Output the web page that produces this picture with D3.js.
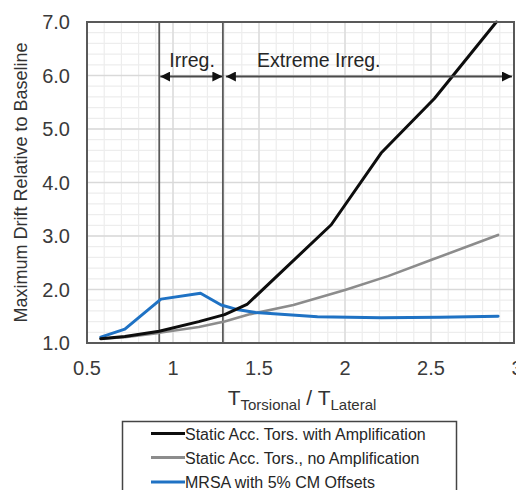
<!DOCTYPE html>
<html>
<head>
<meta charset="utf-8">
<script src="https://cdn.jsdelivr.net/npm/d3@7"></script>
<style>
  html, body { margin: 0; padding: 0; background: #fff; }
  svg { display: block; font-family: Arial, "Liberation Sans", sans-serif; }
</style>
</head>
<body>
<svg id="chart" width="516" height="490"></svg>
<script>
// Period ratio samples and normalized drift for each analysis approach
const ampX   = [0.58, 0.72, 0.92, 1.15, 1.30, 1.43, 1.92, 2.21, 2.52, 2.88];
const ampY   = [1.08, 1.12, 1.22, 1.40, 1.53, 1.72, 3.21, 4.55, 5.57, 7.00];

const noAmpX = [0.58, 0.72, 0.92, 1.15, 1.30, 1.45, 1.70, 2.00, 2.25, 2.50, 2.89];
const noAmpY = [1.08, 1.11, 1.19, 1.30, 1.40, 1.54, 1.71, 1.99, 2.25, 2.55, 3.02];

const mrsaX  = [0.58, 0.72, 0.93, 1.16, 1.28, 1.38, 1.48, 1.84, 2.21, 2.55, 2.89];
const mrsaY  = [1.11, 1.26, 1.82, 1.93, 1.71, 1.62, 1.57, 1.49, 1.47, 1.48, 1.50];

const seriesNames = [
  "Static Acc. Tors. with Amplification",
  "Static Acc. Tors., no Amplification",
  "MRSA with 5% CM Offsets"
];
const seriesColors = ["#0d0d0d", "#8c8c8c", "#1f72c4"];

const xTicks = [0.5, 1, 1.5, 2, 2.5, 3];
const yTicks = [1, 2, 3, 4, 5, 6, 7];

// Irregularity limits on the period ratio
const irregLimits = [0.92, 1.29];
const zoneLabels = ["Irreg.", "Extreme Irreg."];

const svg = d3.select("#chart");
const plotL = 87, plotR = 517, plotT = 22, plotB = 343;
const frameR = 514;

const x = d3.scaleLinear().domain([0.5, 3]).range([plotL, plotR]);
const y = d3.scaleLinear().domain([1, 7]).range([plotB, plotT]);

// Minor grid
const minorX = d3.range(0.5, 3.0001, 0.1).filter(v => x(v) < frameR);
const minorY = d3.range(1, 7.0001, 0.2);
const grid = svg.append("g");
grid.selectAll(".mx").data(minorX).join("line")
  .attr("x1", d => x(d)).attr("x2", d => x(d))
  .attr("y1", plotT).attr("y2", plotB)
  .attr("stroke", "#ededed").attr("stroke-width", 1.2);
grid.selectAll(".my").data(minorY).join("line")
  .attr("x1", plotL).attr("x2", frameR)
  .attr("y1", d => y(d)).attr("y2", d => y(d))
  .attr("stroke", "#ededed").attr("stroke-width", 1.2);
// Major grid
grid.selectAll(".Mx").data(xTicks.filter(v => x(v) < frameR)).join("line")
  .attr("x1", d => x(d)).attr("x2", d => x(d))
  .attr("y1", plotT).attr("y2", plotB)
  .attr("stroke", "#d9d9d9").attr("stroke-width", 1.3);
grid.selectAll(".My").data(yTicks).join("line")
  .attr("x1", plotL).attr("x2", frameR)
  .attr("y1", d => y(d)).attr("y2", d => y(d))
  .attr("stroke", "#d9d9d9").attr("stroke-width", 1.3);

// Irregularity boundaries
svg.append("g").selectAll("line").data(irregLimits).join("line")
  .attr("x1", d => x(d)).attr("x2", d => x(d))
  .attr("y1", plotT).attr("y2", plotB)
  .attr("stroke", "#5a5a5a").attr("stroke-width", 1.8);

// Series lines
const line = d3.line().x(d => x(d[0])).y(d => y(d[1]));
const series = [
  d3.zip(ampX, ampY),
  d3.zip(noAmpX, noAmpY),
  d3.zip(mrsaX, mrsaY)
];
const lineWidths = [3, 2.6, 3];
// grey first, then blue, then black on top
[1, 2, 0].forEach(i => {
  svg.append("path")
    .datum(series[i])
    .attr("fill", "none")
    .attr("stroke", seriesColors[i])
    .attr("stroke-width", lineWidths[i])
    .attr("stroke-linejoin", "round")
    .attr("stroke-linecap", "round")
    .attr("d", line);
});

// Plot frame
svg.append("path")
  .attr("d", `M${plotL},${plotT}H${frameR}V${plotB}H${plotL}Z`)
  .attr("fill", "none").attr("stroke", "#595959").attr("stroke-width", 2);

// Arrowheads
const defs = svg.append("defs");
defs.append("marker").attr("id", "ah")
  .attr("viewBox", "0 0 10 10").attr("refX", 10).attr("refY", 5)
  .attr("markerWidth", 10).attr("markerHeight", 10)
  .attr("markerUnits", "userSpaceOnUse")
  .attr("orient", "auto-start-reverse")
  .append("path").attr("d", "M0,0L10,5L0,10Z").attr("fill", "#111");

const arrowY = y(6) + 1;
const ann = svg.append("g");
const spans = [
  [x(irregLimits[0]) + 1, x(irregLimits[1]) - 0.5],
  [x(irregLimits[1]) + 3, 512]
];
spans.forEach(s => {
  ann.append("line")
    .attr("x1", s[0]).attr("x2", s[1])
    .attr("y1", arrowY).attr("y2", arrowY)
    .attr("stroke", "#4a4a4a").attr("stroke-width", 1.8)
    .attr("marker-start", "url(#ah)").attr("marker-end", "url(#ah)");
});
ann.append("text")
  .attr("x", (x(irregLimits[0]) + x(irregLimits[1])) / 2 + 1)
  .attr("y", 67).attr("text-anchor", "middle")
  .attr("font-size", 19.5).attr("fill", "#262626")
  .text(zoneLabels[0]);
ann.append("text")
  .attr("x", 257).attr("y", 67)
  .attr("font-size", 19.5).attr("fill", "#262626")
  .text(zoneLabels[1]);

// Axis tick labels
const fmtY = d3.format(".1f");
svg.append("g").selectAll("text").data(yTicks).join("text")
  .attr("x", 70).attr("y", d => y(d) + 7)
  .attr("text-anchor", "end")
  .attr("font-size", 20).attr("fill", "#3a3a3a")
  .text(d => fmtY(d));
svg.append("g").selectAll("text").data(xTicks).join("text")
  .attr("x", d => x(d)).attr("y", 375)
  .attr("text-anchor", "middle")
  .attr("font-size", 20).attr("fill", "#3a3a3a")
  .text(d => d);

// Axis titles
svg.append("text")
  .attr("transform", `translate(27,${(plotT + plotB) / 2}) rotate(-90)`)
  .attr("text-anchor", "middle")
  .attr("font-size", 18).attr("fill", "#333")
  .text("Maximum Drift Relative to Baseline");

const xt = svg.append("text")
  .attr("x", (plotL + plotR) / 2).attr("y", 405)
  .attr("text-anchor", "middle")
  .attr("font-size", 21).attr("fill", "#333");
xt.append("tspan").text("T");
xt.append("tspan").attr("font-size", 15).attr("dy", 5).text("Torsional");
xt.append("tspan").attr("dy", -5).text(" / T");
xt.append("tspan").attr("font-size", 15).attr("dy", 5).text("Lateral");

// Legend
const lg = svg.append("g");
lg.append("rect")
  .attr("x", 122.5).attr("y", 421.5).attr("width", 334).attr("height", 90)
  .attr("fill", "#fff").attr("stroke", "#444").attr("stroke-width", 1.5);
const rowY = [433.5, 457.5, 482];
seriesNames.forEach((name, i) => {
  lg.append("line")
    .attr("x1", 151).attr("x2", 185)
    .attr("y1", rowY[i]).attr("y2", rowY[i])
    .attr("stroke", seriesColors[i]).attr("stroke-width", 3);
  lg.append("text")
    .attr("x", 185).attr("y", rowY[i] + 6)
    .attr("font-size", 16).attr("fill", "#262626")
    .text(name);
});
</script>
</body>
</html>
